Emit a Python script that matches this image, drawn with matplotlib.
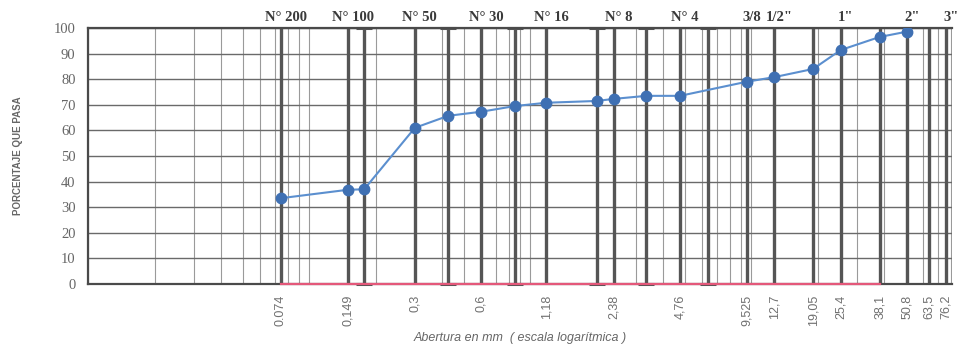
import matplotlib.pyplot as plt
import matplotlib.transforms as mtransforms
import numpy as np

# ---------------------------------------------------------------------------
# data
sizes_mm = [0.074, 0.149, 0.177, 0.3, 0.425, 0.6, 0.85, 1.18, 2.0, 2.38,
            3.35, 4.76, 9.525, 12.7, 19.05, 25.4, 38.1, 50.8]
pass_pct = [33.5, 36.8, 37.0, 61.0, 65.7, 67.3, 69.5, 70.8, 71.5, 72.3,
            73.5, 73.5, 79.0, 80.8, 84.0, 91.4, 96.5, 98.6]

tick_mm = [0.074, 0.149, 0.3, 0.6, 1.18, 2.38, 4.76, 9.525, 12.7, 19.05,
           25.4, 38.1, 50.8, 63.5, 76.2]
tick_txt = ["0.074", "0,149", "0,3", "0,6", "1,18", "2,38", "4,76", "9,525",
            "12,7", "19,05", "25,4", "38,1", "50,8", "63,5", "76,2"]

# intermediate sieves (drawn thick with small caps)
extra_mm = [0.177, 0.425, 0.85, 2.0, 3.35, 6.35]

sieve_mm = [0.074, 0.149, 0.3, 0.6, 1.18, 2.38, 4.76, 9.525, 12.7, 25.4, 50.8, 76.2]
sieve_txt = ["N° 200", "N° 100", "N° 50", "N° 30", "N° 16", "N° 8", "N° 4",
             "3/8", "1/2\"", "1\"", "2\"", "3\""]

red_span = [0.074, 38.1]

# ---------------------------------------------------------------------------
fig = plt.figure(figsize=(9.66, 3.52), dpi=100)
ax = fig.add_axes([88 / 966, 1 - 284 / 352, (952 - 88) / 966, 256 / 352])

ax.set_xscale("log")
ax.set_xlim(0.00995, 81)
ax.set_ylim(0, 100)

# thin log grid
minors = [m * 10.0 ** d for d in range(-2, 2) for m in range(1, 10)]
for v in minors:
    if 0.00995 < v < 81:
        ax.axvline(v, color="#9a9a9a", lw=0.8, zorder=1)

# horizontal grid
for yv in range(10, 101, 10):
    ax.axhline(yv, color="#6a6a6a", lw=1.0, zorder=1)

# thick sieve lines
for v in tick_mm + extra_mm:
    ax.axvline(v, color="#555555", lw=2.4, zorder=2)
for v in extra_mm:
    ax.plot([v, v], [0, 100], ls="none", marker="_", ms=11, mew=2.2,
            color="#555555", zorder=2, clip_on=False)

# red baseline
ax.plot(red_span, [0, 0], color="#e4587a", lw=1.6, zorder=3, clip_on=False)

# grading curve
ax.plot(sizes_mm, pass_pct, color="#5b8fcf", lw=1.5, marker="o", ms=7.5,
        mfc="#3f70b3", mec="#3f70b3", zorder=4)

# frame
for side in ["left", "bottom", "top"]:
    ax.spines[side].set_color("#4a4a4a")
    ax.spines[side].set_linewidth(1.6)
ax.spines["right"].set_visible(False)

# y axis
ax.set_yticks(range(0, 101, 10))
ax.set_yticklabels([str(v) for v in range(0, 101, 10)], family="Liberation Serif",
                   fontsize=10.5, color="#666666")
ax.tick_params(axis="y", length=0, pad=9)
ax.set_ylabel("PORCENTAJE QUE PASA", family="Liberation Sans", fontweight="bold",
              fontsize=7, color="#666666", labelpad=22)

# x axis
ax.xaxis.set_minor_locator(plt.NullLocator())
ax.set_xticks(tick_mm)
ax.set_xticklabels(tick_txt, rotation=90, family="Liberation Sans", fontsize=9,
                   color="#707070", va="top")
ax.tick_params(axis="x", length=0, pad=8)
ax.set_xlabel("Abertura en mm  ( escala logarítmica )", family="Liberation Sans",
              style="italic", fontsize=9, color="#666666", labelpad=4)

# sieve names on top
off = mtransforms.ScaledTranslation(5 / 100, 0, fig.dpi_scale_trans)
for v, t in zip(sieve_mm, sieve_txt):
    ax.text(v, 101.5, t, transform=ax.transData + off,
            ha="center", va="bottom", family="Liberation Serif", fontweight="bold",
            fontsize=10.5, color="#3a3a3a", clip_on=False)

fig.savefig("out.png", dpi=100)
